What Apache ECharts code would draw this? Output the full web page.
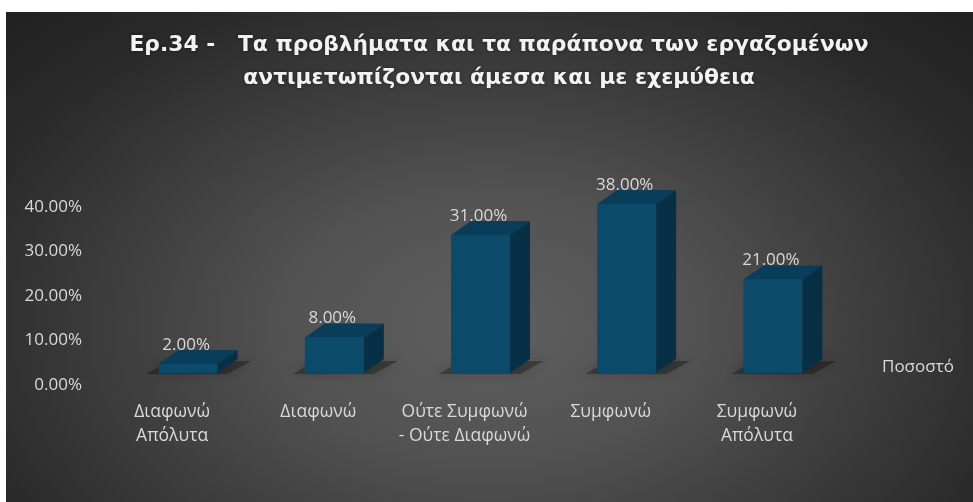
<!DOCTYPE html>
<html>
<head>
<meta charset="utf-8">
<script src="https://cdn.jsdelivr.net/npm/echarts@6/dist/echarts.min.js"></script>
<style>
  html, body { margin: 0; padding: 0; background: #ffffff; }
  #chart {
    position: absolute; left: 6px; top: 12px; width: 967px; height: 490px;
    background: radial-gradient(ellipse farthest-corner at 50% 64%, #5f5f5f 0%, #525252 30%, #3d3d3d 56%, #2a2a2a 80%, #212121 100%);
  }
</style>
</head>
<body>
<div id="chart"></div>
<script>
// Survey answers and their shares (percent)
const categories = ['Διαφωνώ\nΑπόλυτα', 'Διαφωνώ', 'Ούτε Συμφωνώ\n- Ούτε Διαφωνώ', 'Συμφωνώ', 'Συμφωνώ\nΑπόλυτα'];
const shares = [2, 8, 31, 38, 21];
const seriesName = 'Ποσοστό';
const yTicks = [0, 10, 20, 30, 40];
const titleText = 'Ερ.34 -   Τα προβλήματα και τα παράπονα των εργαζομένων\nαντιμετωπίζονται άμεσα και με εχεμύθεια';

const FONT = 'Open Sans';
const TEXT_COLOR = '#d9d9d9';

// pseudo-3D bar geometry (pixels)
const SHIFT_X = 16, HALF_W = 29.5, LIFT = 12, DX = 20, DY = 14;
const FRONT = '#0c4a6b', TOP = '#0a3d59', SIDE = '#073047';

const chart = echarts.init(document.getElementById('chart'), null, { renderer: 'canvas' });

function renderBar(params, api) {
  const i = api.value(0), v = api.value(1);
  const topPt = api.coord([i, v]);
  const basePt = api.coord([i, 0]);
  const cx = topPt[0] + SHIFT_X;
  const x0 = cx - HALF_W, x1 = cx + HALF_W;
  const yT = topPt[1] - LIFT, yB = basePt[1] - LIFT;
  return {
    type: 'group',
    children: [
      { // soft floor shadow
        type: 'polygon',
        shape: { points: [[x0 - 12, yB + 1], [x0 + DX - 10, yB - DY + 2], [x1 + DX + 14, yB - DY + 2], [x1 + 10, yB + 1]] },
        style: { fill: 'rgba(0,0,0,0.3)', shadowBlur: 12, shadowColor: 'rgba(0,0,0,0.65)' },
        z2: 0
      },
      { type: 'rect', shape: { x: x0, y: yT, width: x1 - x0, height: yB - yT }, style: { fill: FRONT }, z2: 2 },
      { type: 'polygon', shape: { points: [[x0, yT], [x0 + DX, yT - DY], [x1 + DX, yT - DY], [x1, yT]] }, style: { fill: TOP }, z2: 2 },
      { type: 'polygon', shape: { points: [[x1, yT], [x1 + DX, yT - DY], [x1 + DX, yB - DY], [x1, yB]] }, style: { fill: SIDE }, z2: 2 },
      {
        type: 'text', z2: 3,
        style: {
          x: cx - 2, y: yT - 19,
          text: v.toFixed(2) + '%',
          fill: TEXT_COLOR, font: '17px "' + FONT + '"',
          align: 'center', verticalAlign: 'middle'
        }
      }
    ]
  };
}

chart.setOption({
  animation: false,
  backgroundColor: 'transparent',
  title: {
    text: titleText,
    left: 493,
    top: 17,
    padding: 0,
    textAlign: 'center',
    textStyle: {
      color: '#f2f2f2', fontFamily: 'DejaVu Sans', fontWeight: 'bold',
      fontSize: 21.8, lineHeight: 33,
      textShadowColor: 'rgba(0,0,0,0.5)', textShadowBlur: 3
    }
  },
  legend: {
    data: [seriesName],
    left: 865, top: 342,
    icon: 'rect', itemWidth: 1, itemHeight: 1,
    itemStyle: { color: 'rgba(0,0,0,0)' },
    textStyle: { color: TEXT_COLOR, fontFamily: FONT, fontSize: 17 }
  },
  grid: { left: 93, right: 143, top: 195, bottom: 117, containLabel: false },
  xAxis: {
    type: 'category',
    data: categories,
    axisLine: { show: false }, axisTick: { show: false },
    axisLabel: { color: TEXT_COLOR, fontFamily: FONT, fontSize: 17.5, lineHeight: 24, margin: 15, interval: 0 }
  },
  yAxis: {
    type: 'value',
    min: yTicks[0], max: yTicks[yTicks.length - 1], interval: yTicks[1] - yTicks[0],
    splitLine: { show: false }, axisLine: { show: false }, axisTick: { show: false },
    axisLabel: { color: TEXT_COLOR, fontFamily: FONT, fontSize: 17, margin: 17, formatter: v => v.toFixed(2) + '%' }
  },
  series: [{
    name: seriesName,
    type: 'custom',
    renderItem: renderBar,
    itemStyle: { color: FRONT },
    data: shares.map((v, i) => [i, v]),
    encode: { x: 0, y: 1 }
  }]
});
</script>
</body>
</html>
